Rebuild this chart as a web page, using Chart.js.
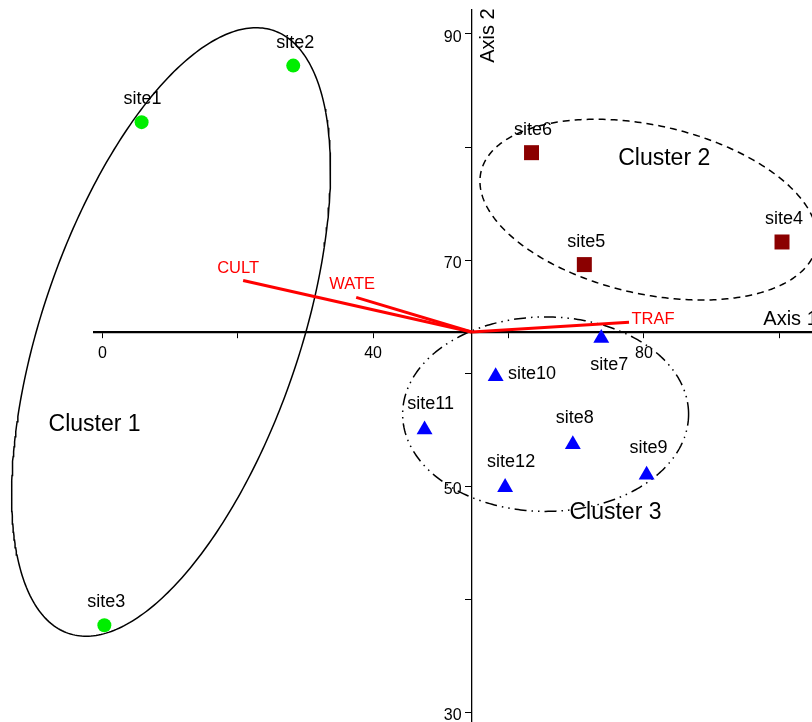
<!DOCTYPE html>
<html>
<head>
<meta charset="utf-8">
<title>Biplot</title>
<script src="https://cdn.jsdelivr.net/npm/chart.js@4.4.1/dist/chart.umd.min.js"></script>
<style>
  html, body { margin: 0; padding: 0; background: #ffffff; }
  #plot { display: block; }
</style>
</head>
<body>
<canvas id="plot" width="812" height="722"></canvas>
<script>
// Site scores on the two ordination axes
const siteNames   = ['site1', 'site2', 'site3', 'site4', 'site5', 'site6',
                     'site7', 'site8', 'site9', 'site10', 'site11', 'site12'];
const siteAxis1   = [5.8, 28.2, 0.3, 100.4, 71.2, 63.4, 73.7, 69.5, 80.4, 58.1, 47.6, 59.5];
const siteAxis2   = [82.2, 87.2, 37.7, 71.6, 69.6, 79.5, 63.1, 53.7, 51.0, 59.7, 55.0, 49.9];
const siteCluster = [1, 1, 1, 2, 2, 2, 3, 3, 3, 3, 3, 3];

// Environmental variables (vector tips); vectors start at the axes crossing
const variableNames = ['CULT', 'WATE', 'TRAF'];
const variableAxis1 = [20.8, 37.5, 77.8];
const variableAxis2 = [68.2, 66.7, 64.5];
const axesCrossing  = [54.55, 63.64];

// Cluster envelopes: centre plus two conjugate semi-axes, in axis units
const clusterNames   = ['Cluster 1', 'Cluster 2', 'Cluster 3'];
const clusterCentre  = [[10.15, 63.64], [80.69, 74.46], [65.48, 56.37]];
const clusterAxisA   = [[15.16, 26.66], [24.76, -3.33], [21.12, 0]];
const clusterAxisB   = [[18.02, -3.676], [-2.725, -7.27], [0, 8.6]];
const clusterLabelAxis1 = [-1.15, 83.0, 75.8];
const clusterLabelAxis2 = [55.4, 78.94, 47.7];

// Axis ticks
const axis1Range  = [-1.23, 104.83];
const axis2Range  = [29.14, 92.12];
const axis1Ticks  = [0, 20, 40, 60, 80, 100];
const axis1Labels = ['0', '', '40', '', '80', ''];
const axis2Ticks  = [30, 40, 50, 60, 70, 80, 90];
const axis2Labels = ['30', '', '50', '', '70', '', '90'];

// ---- presentation ----
const FONT = '"Liberation Sans", Arial, Helvetica, sans-serif';
const clusterStyle = [
  { style: 'circle',   radius: 7,    color: '#00ee00', dash: [] },
  { style: 'rect',     radius: 10.6, color: '#8b0000', dash: [7, 5] },
  { style: 'triangle', radius: 9.2,  color: '#0000ff', dash: [12, 5, 1.5, 5, 1.5, 5] }
];
// label offsets in pixels from each site marker: [dx, dy, align]
const siteLabelOffset = [
  [1, -23.5, 'center'], [2, -23, 'center'], [2, -23, 'center'], [2, -23, 'center'],
  [2, -23, 'center'], [1.5, -23, 'center'], [8, 27, 'center'], [2, -26, 'center'],
  [2, -26.5, 'center'], [12.4, -2.3, 'left'], [6, -26, 'center'], [6, -25, 'center']
];
const variableLabelOffset = [[-5, -12.4, 'center'], [-4, -13, 'center'], [2.5, -3, 'left']];

function ellipsePath(c, a, b, steps) {
  const pts = [];
  for (let k = 0; k <= steps; k++) {
    const t = 2 * Math.PI * k / steps;
    pts.push({
      x: c[0] + a[0] * Math.cos(t) + b[0] * Math.sin(t),
      y: c[1] + a[1] * Math.cos(t) + b[1] * Math.sin(t)
    });
  }
  return pts;
}

const datasets = [];

// site markers, one dataset per cluster
[1, 2, 3].forEach((cl, k) => {
  const pts = [];
  siteNames.forEach((n, i) => {
    if (siteCluster[i] === cl) pts.push({ x: siteAxis1[i], y: siteAxis2[i] });
  });
  datasets.push({
    label: clusterNames[k],
    data: pts,
    showLine: false,
    pointStyle: clusterStyle[k].style,
    pointRadius: clusterStyle[k].radius,
    pointHoverRadius: clusterStyle[k].radius,
    pointBackgroundColor: clusterStyle[k].color,
    pointBorderColor: clusterStyle[k].color,
    pointBorderWidth: 0,
    order: 0
  });
});

// variable vectors
variableNames.forEach((n, i) => {
  datasets.push({
    label: n,
    data: [{ x: axesCrossing[0], y: axesCrossing[1] }, { x: variableAxis1[i], y: variableAxis2[i] }],
    showLine: true,
    borderColor: '#ff0000',
    borderWidth: 3,
    pointRadius: 0,
    order: 1
  });
});

// cluster envelopes
clusterNames.forEach((n, k) => {
  datasets.push({
    label: n + ' envelope',
    data: ellipsePath(clusterCentre[k], clusterAxisA[k], clusterAxisB[k], 360),
    showLine: true,
    borderColor: '#000000',
    borderWidth: 1.5,
    borderDash: clusterStyle[k].dash,
    pointRadius: 0,
    tension: 0,
    clip: false,
    order: 2
  });
});

const textPlugin = {
  id: 'biplotText',
  afterDatasetsDraw(chart) {
    const { ctx, chartArea } = chart;
    const xs = chart.scales.x, ys = chart.scales.y;
    const axisX = xs.getPixelForValue(axesCrossing[0]);
    const axisY = ys.getPixelForValue(axesCrossing[1]);
    ctx.save();
    ctx.textBaseline = 'middle';

    // tick labels of the vertical axis, set left of the tick marks
    ctx.fillStyle = '#000000';
    ctx.font = '16px ' + FONT;
    ctx.textAlign = 'right';
    axis2Ticks.forEach((v, i) => {
      if (axis2Labels[i]) ctx.fillText(axis2Labels[i], axisX - 10, ys.getPixelForValue(v) + 3.5);
    });

    // site names
    ctx.font = '18px ' + FONT;
    siteNames.forEach((name, i) => {
      const [dx, dy, align] = siteLabelOffset[i];
      ctx.textAlign = align;
      ctx.fillText(name, xs.getPixelForValue(siteAxis1[i]) + dx, ys.getPixelForValue(siteAxis2[i]) + dy);
    });

    // variable names
    ctx.fillStyle = '#ff0000';
    ctx.font = '16.5px ' + FONT;
    variableNames.forEach((name, i) => {
      const [dx, dy, align] = variableLabelOffset[i];
      ctx.textAlign = align;
      ctx.fillText(name, xs.getPixelForValue(variableAxis1[i]) + dx, ys.getPixelForValue(variableAxis2[i]) + dy);
    });

    // cluster names
    ctx.fillStyle = '#000000';
    ctx.font = '23px ' + FONT;
    ctx.textAlign = 'center';
    clusterNames.forEach((name, k) => {
      ctx.fillText(name, xs.getPixelForValue(clusterLabelAxis1[k]), ys.getPixelForValue(clusterLabelAxis2[k]));
    });

    // axis titles
    ctx.font = '20px ' + FONT;
    ctx.textAlign = 'left';
    ctx.fillText('Axis 1', chartArea.right - 48.7, axisY - 12);
    ctx.save();
    ctx.translate(axisX + 17, chartArea.top + 25.5);
    ctx.rotate(-Math.PI / 2);
    ctx.textAlign = 'center';
    ctx.fillText('Axis 2', 0, 0);
    ctx.restore();

    ctx.restore();
  }
};

function noScalePadding(scale) {
  scale.paddingTop = 0; scale.paddingBottom = 0;
  scale.paddingLeft = 0; scale.paddingRight = 0;
}

new Chart(document.getElementById('plot'), {
  type: 'scatter',
  data: { datasets },
  plugins: [textPlugin],
  options: {
    responsive: false,
    animation: false,
    devicePixelRatio: 1,
    layout: { padding: { left: 94, top: 10, right: 0, bottom: 0 }, autoPadding: false },
    plugins: { legend: { display: false }, tooltip: { enabled: false } },
    events: [],
    scales: {
      x: {
        type: 'linear',
        min: axis1Range[0], max: axis1Range[1],
        position: { y: axesCrossing[1] },
        afterBuildTicks: s => { s.ticks = axis1Ticks.map(v => ({ value: v })); },
        afterFit: noScalePadding,
        grid: { display: true, drawOnChartArea: false, drawTicks: true, tickLength: 5, tickWidth: 1, tickColor: '#000000' },
        border: { display: true, color: '#000000', width: 2.2 },
        ticks: {
          autoSkip: false, maxRotation: 0, padding: 7, color: '#000000',
          font: { family: FONT, size: 16 },
          callback: v => { const i = axis1Ticks.indexOf(v); return i >= 0 ? axis1Labels[i] : ''; }
        }
      },
      y: {
        type: 'linear',
        min: axis2Range[0], max: axis2Range[1],
        position: { x: axesCrossing[0] },
        afterBuildTicks: s => { s.ticks = axis2Ticks.map(v => ({ value: v })); },
        afterFit: noScalePadding,
        grid: { display: true, drawOnChartArea: false, drawTicks: true, tickLength: 6, tickWidth: 1, tickColor: '#000000' },
        border: { display: true, color: '#000000', width: 1.3 },
        ticks: {
          autoSkip: false, color: '#000000',
          font: { family: FONT, size: 16 },
          // labels are set by the text plugin, left of the tick marks
          callback: () => ''
        }
      }
    }
  }
});
</script>
</body>
</html>
